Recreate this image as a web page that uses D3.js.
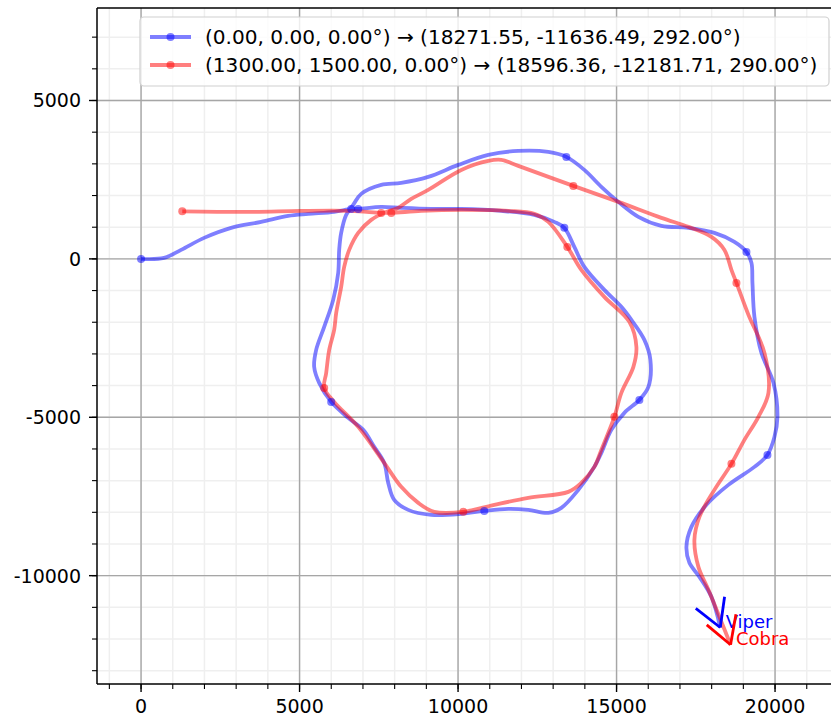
<!DOCTYPE html>
<html>
<head>
<meta charset="utf-8">
<script src="https://cdn.jsdelivr.net/npm/d3@7"></script>
<style>
  body { margin: 0; background: #fff; }
  text { font-family: "DejaVu Sans", sans-serif; }
</style>
</head>
<body>
<div id="chart"></div>
<script>
// Size of the page
const width = 831;
const height = 722;

// Viper trajectory (x, y in world units)
const viperPath = [
  [0, 0], [726, 32], [1263, 284], [1989, 663], [2841, 979], [3788, 1168], [4640, 1357],
  [5272, 1420], [6092, 1484], [6629, 1578], [6850, 1578], [7576, 1641], [8207, 1610],
  [9154, 1578], [10101, 1578], [11364, 1515], [12406, 1389], [13037, 1168], [13353, 979],
  [13668, 379], [13984, -253], [14615, -979], [15152, -1515], [15468, -1926], [15878, -2557],
  [16067, -3188], [16004, -4040], [15720, -4451], [15247, -4861], [14836, -5398], [14520, -6124],
  [14299, -6566], [13794, -7292], [13258, -7860], [12847, -8018], [12216, -7923], [11585, -7892],
  [10827, -7955], [10101, -8049], [9154, -8081], [8428, -7923], [7986, -7607], [7797, -7071],
  [7670, -6439], [7355, -5934], [7008, -5398], [6534, -5019], [5998, -4514], [5619, -3914],
  [5461, -3409], [5524, -2873], [5777, -2146], [6061, -1294], [6219, -442], [6250, 284],
  [6313, 821], [6471, 1389], [6692, 1705], [6945, 2052], [7576, 2336], [8207, 2399],
  [9059, 2588], [10006, 2967], [10954, 3283], [11901, 3409], [12848, 3378], [13416, 3220],
  [13984, 2809], [14520, 2273], [15057, 1799], [15689, 1326], [16415, 1042], [17267, 979],
  [18087, 821], [18719, 537], [19098, 221], [19256, -126], [19287, -758], [19350, -1831],
  [19571, -2967], [19950, -3914], [20076, -4987], [19981, -5619], [19760, -6187], [19350, -6566],
  [18529, -7134], [17835, -7765], [17361, -8460], [17204, -9091], [17298, -9596], [17614, -10038],
  [17992, -10669], [18271.55, -11636.49]
];

// Cobra trajectory
const cobraPath = [
  [1300, 1500], [3472, 1484], [5051, 1515], [6629, 1515], [7576, 1452], [7892, 1452],
  [8839, 1515], [10101, 1547], [11585, 1515], [12406, 1420], [12848, 1168], [13447, 379],
  [13889, -347], [14615, -1200], [15404, -1989], [15626, -2778], [15531, -3409], [15152, -4230],
  [14931, -4987], [14520, -6029], [14299, -6566], [13889, -7071], [13479, -7355], [12216, -7544],
  [11143, -7765], [10164, -7986], [9249, -7986], [8744, -7702], [8207, -7197], [7670, -6439],
  [6850, -5303], [6092, -4514], [5777, -4072], [5840, -3599], [5935, -2873], [6092, -2241],
  [6156, -1705], [6313, -884], [6408, -253], [6566, 284], [6850, 821], [7260, 1231],
  [7734, 1484], [8112, 1610], [8523, 1894], [9059, 2178], [10101, 2809], [10954, 3094],
  [11364, 3125], [11901, 2936], [13637, 2304], [15057, 1799], [16415, 1294], [17267, 1010],
  [17993, 694], [18403, 284], [18624, -347], [18782, -758], [19161, -1768], [19666, -2967],
  [19792, -4230], [19476, -4987], [19034, -5714], [18624, -6471], [18087, -7292], [17614, -8144],
  [17456, -8870], [17582, -9722], [17898, -10448], [18245, -11301], [18596.36, -12181.71]
];

// Sampled points shown as dots
const viperMarks = [
  [0, 0], [6629, 1578], [6850, 1578], [13353, 979], [15720, -4451], [10827, -7955],
  [5998, -4514], [13416, 3220], [19098, 221], [19760, -6187]
];
const cobraMarks = [
  [1300, 1500], [7576, 1452], [7892, 1452], [13447, 379], [14931, -4987], [10164, -7986],
  [5777, -4072], [13637, 2304], [18782, -758], [18624, -6471]
];

// Final headings in degrees
const headings = [292, 290];
const names = ["Viper", "Cobra"];
const colors = ["#0000ff", "#ff0000"];

const legendLabels = [
  "(0.00, 0.00, 0.00°) → (18271.55, -11636.49, 292.00°)",
  "(1300.00, 1500.00, 0.00°) → (18596.36, -12181.71, 290.00°)"
];

const xMajor = [0, 5000, 10000, 15000, 20000];
const yMajor = [-10000, -5000, 0, 5000];
const xMinor = d3.range(-1000, 24000, 1000);
const yMinor = d3.range(-13000, 8000, 1000);

// Plot area (right side runs past the page edge)
const pLeft = 97, pTop = 8, pBottom = 684, pRight = 873;

const x = d3.scaleLinear().domain([-1390, 23090]).range([pLeft, pRight]);
const y = d3.scaleLinear().domain([-13420, 7920]).range([pBottom, pTop]);

const svg = d3.select("#chart")
  .append("svg")
  .attr("width", width)
  .attr("height", height);

svg.append("defs").append("clipPath")
  .attr("id", "clip")
  .append("rect")
  .attr("x", pLeft).attr("y", pTop)
  .attr("width", pRight - pLeft).attr("height", pBottom - pTop);

const plot = svg.append("g").attr("clip-path", "url(#clip)");

// Minor grid
plot.selectAll(".vminor").data(xMinor).join("line")
  .attr("x1", d => x(d)).attr("x2", d => x(d))
  .attr("y1", pTop).attr("y2", pBottom)
  .attr("stroke", "#efefef").attr("stroke-width", 1.5);
plot.selectAll(".hminor").data(yMinor).join("line")
  .attr("y1", d => y(d)).attr("y2", d => y(d))
  .attr("x1", pLeft).attr("x2", pRight)
  .attr("stroke", "#efefef").attr("stroke-width", 1.5);

// Major grid
plot.selectAll(".vmajor").data(xMajor).join("line")
  .attr("x1", d => x(d)).attr("x2", d => x(d))
  .attr("y1", pTop).attr("y2", pBottom)
  .attr("stroke", "#a6a6a6").attr("stroke-width", 1.4);
plot.selectAll(".hmajor").data(yMajor).join("line")
  .attr("y1", d => y(d)).attr("y2", d => y(d))
  .attr("x1", pLeft).attr("x2", pRight)
  .attr("stroke", "#a6a6a6").attr("stroke-width", 1.4);

const line = d3.line()
  .x(d => x(d[0]))
  .y(d => y(d[1]))
  .curve(d3.curveCatmullRom.alpha(0.5));

const paths = [viperPath, cobraPath];
const marks = [viperMarks, cobraMarks];

paths.forEach(function(p, i) {
  plot.append("path")
    .attr("d", line(p))
    .attr("fill", "none")
    .attr("stroke", colors[i])
    .attr("stroke-opacity", 0.5)
    .attr("stroke-width", 3.8)
    .attr("stroke-linejoin", "round");
});

marks.forEach(function(m, i) {
  plot.selectAll(".m" + i).data(m).join("circle")
    .attr("class", "m" + i)
    .attr("cx", d => x(d[0]))
    .attr("cy", d => y(d[1]))
    .attr("r", 4)
    .attr("fill", colors[i])
    .attr("fill-opacity", 0.5);
});

// Heading arrows at the end of each path
const armLen = 980;
const armAngle = 30;
paths.forEach(function(p, i) {
  const end = p[p.length - 1];
  [-armAngle, armAngle].forEach(function(da) {
    const a = (headings[i] + 180 + da) * Math.PI / 180;
    plot.append("line")
      .attr("x1", x(end[0])).attr("y1", y(end[1]))
      .attr("x2", x(end[0] + armLen * Math.cos(a)))
      .attr("y2", y(end[1] + armLen * Math.sin(a)))
      .attr("stroke", colors[i])
      .attr("stroke-width", 2.8);
  });
  plot.append("text")
    .attr("x", x(end[0] + 170))
    .attr("y", y(end[1]))
    .attr("fill", colors[i])
    .style("font-size", "18px")
    .text(names[i]);
});

// Axes frame
svg.append("line").attr("x1", pLeft).attr("x2", pLeft).attr("y1", pTop).attr("y2", pBottom)
  .attr("stroke", "#000").attr("stroke-width", 1.5);
svg.append("line").attr("x1", pLeft).attr("x2", width).attr("y1", pBottom).attr("y2", pBottom)
  .attr("stroke", "#000").attr("stroke-width", 1.5);
svg.append("line").attr("x1", pLeft).attr("x2", width).attr("y1", pTop).attr("y2", pTop)
  .attr("stroke", "#000").attr("stroke-width", 1.5);

const fmt = d => d3.format("d")(d).replace("−", "-");

// x ticks
svg.selectAll(".xminort").data(xMinor).join("line")
  .attr("class", "xminort")
  .attr("x1", d => x(d)).attr("x2", d => x(d))
  .attr("y1", pBottom).attr("y2", pBottom + 5)
  .attr("stroke", "#000").attr("stroke-width", 1.1);
svg.selectAll(".xmajort").data(xMajor).join("line")
  .attr("class", "xmajort")
  .attr("x1", d => x(d)).attr("x2", d => x(d))
  .attr("y1", pBottom).attr("y2", pBottom + 8)
  .attr("stroke", "#000").attr("stroke-width", 1.4);
svg.selectAll(".xlab").data(xMajor).join("text")
  .attr("class", "xlab")
  .attr("x", d => x(d))
  .attr("y", pBottom + 29)
  .attr("text-anchor", "middle")
  .style("font-size", "19px")
  .attr("fill", "#000")
  .text(fmt);

// y ticks
svg.selectAll(".yminort").data(yMinor).join("line")
  .attr("class", "yminort")
  .attr("y1", d => y(d)).attr("y2", d => y(d))
  .attr("x1", pLeft - 5).attr("x2", pLeft)
  .attr("stroke", "#000").attr("stroke-width", 1.1);
svg.selectAll(".ymajort").data(yMajor).join("line")
  .attr("class", "ymajort")
  .attr("y1", d => y(d)).attr("y2", d => y(d))
  .attr("x1", pLeft - 8).attr("x2", pLeft)
  .attr("stroke", "#000").attr("stroke-width", 1.4);
svg.selectAll(".ylab").data(yMajor).join("text")
  .attr("class", "ylab")
  .attr("x", pLeft - 16)
  .attr("y", d => y(d) + 7)
  .attr("text-anchor", "end")
  .style("font-size", "19px")
  .attr("fill", "#000")
  .text(fmt);

// Legend
const legend = svg.append("g");
legend.append("rect")
  .attr("x", 140).attr("y", 17)
  .attr("width", 689).attr("height", 69)
  .attr("rx", 4)
  .attr("fill", "#fff").attr("fill-opacity", 0.8)
  .attr("stroke", "#d0d0d0").attr("stroke-width", 1.2);

const rows = legend.selectAll(".row").data(legendLabels).join("g")
  .attr("class", "row")
  .attr("transform", (d, i) => `translate(0, ${37 + i * 28})`);
rows.append("line")
  .attr("x1", 150).attr("x2", 191)
  .attr("stroke", (d, i) => colors[i])
  .attr("stroke-opacity", 0.5)
  .attr("stroke-width", 3.8);
rows.append("circle")
  .attr("cx", 170.5).attr("r", 4)
  .attr("fill", (d, i) => colors[i])
  .attr("fill-opacity", 0.5);
rows.append("text")
  .attr("x", 205).attr("y", 7)
  .style("font-size", "20.1px")
  .attr("fill", "#000")
  .text(d => d);
</script>
</body>
</html>
